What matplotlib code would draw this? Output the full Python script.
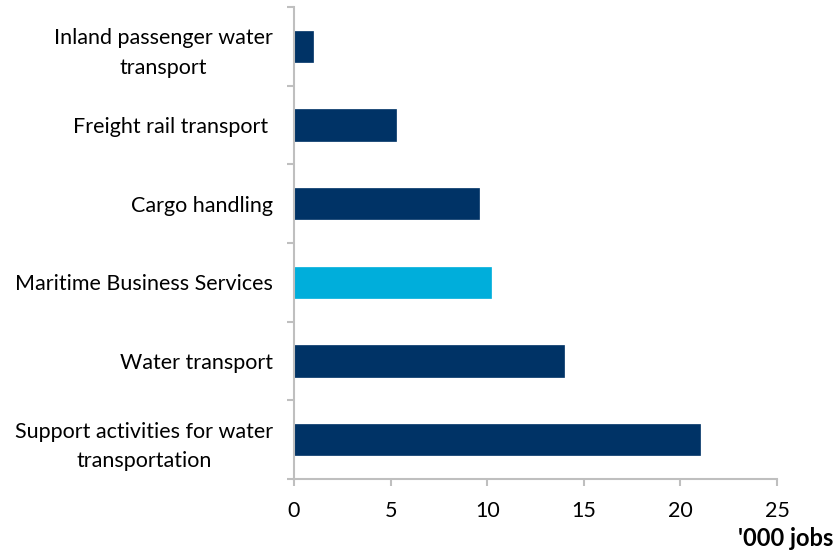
import matplotlib
matplotlib.use("Agg")
import matplotlib.pyplot as plt
import numpy as np

categories = [
    "Inland passenger water\ntransport",
    "Freight rail transport ",
    "Cargo handling",
    "Maritime Business Services",
    "Water transport",
    "Support activities for water\ntransportation",
]
values = [1.0, 5.3, 9.6, 10.2, 14.0, 21.0]
highlight = "Maritime Business Services"
x_ticks = [0, 5, 10, 15, 20, 25]
x_label = "'000 jobs"

dark = "#003366"
light = "#00AEDB"
axis_grey = "#BFBFBF"

plt.rcParams['font.family'] = ['Lato', 'DejaVu Sans']

fig = plt.figure(figsize=(8.34, 5.53), dpi=100)
ax = fig.add_axes([294/834, 1 - 479/553, (777-294)/834, (479-7)/553])

y = np.arange(len(categories))
colors = [light if c == highlight else dark for c in categories]
ax.barh(y, values, height=0.4, color=colors, edgecolor=colors, linewidth=0.5)

ax.set_xlim(0, 25)
ax.set_ylim(len(categories) - 0.5, -0.5)
ax.set_xticks(x_ticks)
ax.set_xticklabels([str(t) for t in x_ticks], fontsize=15.5)
ax.set_yticks(y)
ax.set_yticklabels(categories, fontsize=15.5, ha='right', multialignment='center',
                   linespacing=1.6)
ax.set_yticks(np.arange(-0.5, len(categories) + 0.5, 1), minor=True)

ax.tick_params(axis='y', which='major', length=0, pad=15)
ax.tick_params(axis='y', which='minor', length=5, color=axis_grey, width=1.5)
ax.tick_params(axis='x', which='major', length=5, color=axis_grey, width=1.5, pad=11)

for s in ['top', 'right']:
    ax.spines[s].set_visible(False)
for s in ['left', 'bottom']:
    ax.spines[s].set_color(axis_grey)
    ax.spines[s].set_linewidth(1.5)

fig.text(833/834, 1 - 538/553, x_label, ha='right', va='center', fontsize=17, fontweight='bold')

fig.savefig("out.png", dpi=100)
